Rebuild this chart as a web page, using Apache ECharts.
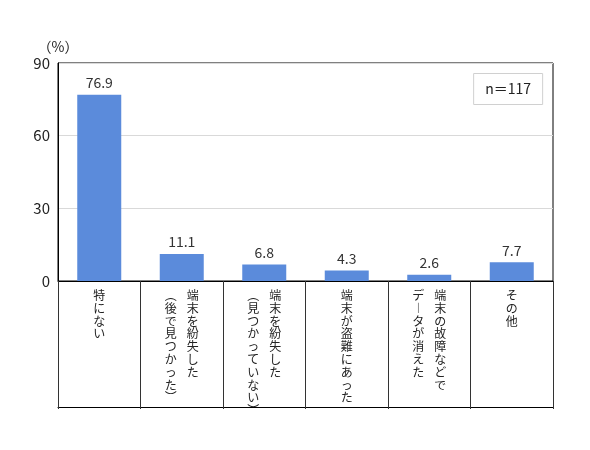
<!DOCTYPE html>
<html><head><meta charset="utf-8">
<script src="https://cdn.jsdelivr.net/npm/echarts@6/dist/echarts.min.js"></script>
<style>html,body{margin:0;padding:0;background:#fff}#c{width:590px;height:450px}</style>
</head><body><div id="c"></div>
<script>
const categories = ['特にない', '端末を紛失した（後で見つかった）', '端末を紛失した（見つかっていない）', '端末が盗難にあった', '端末の故障などでデータが消えた', 'その他'];
const labelColumns = [
  ['特にない'],
  ['端末を紛失した', '（後で見つかった）'],
  ['端末を紛失した', '（見つかっていない）'],
  ['端末が盗難にあった'],
  ['端末の故障などで', 'データが消えた'],
  ['その他']
];
const values = [76.9, 11.1, 6.8, 4.3, 2.6, 7.7];
const yTickValues = [0, 30, 60, 90];
const unitLabel = '（%）';
const sampleNote = 'n＝117';

const FONT = '"Noto Sans CJK JP", "Noto Sans", sans-serif';
const VERT = {'（': '︵', '）': '︶', 'ー': '︱'};
function toVertical(col) { return Array.from(col).map(c => VERT[c] || c); }
function verticalLabel(idx) {
  const cols = labelColumns[idx].map(toVertical).reverse(); // leftmost column first
  const n = Math.max(...cols.map(c => c.length));
  const lines = [];
  for (let i = 0; i < n; i++) {
    lines.push(cols.map(c => '{c|' + (c[i] || '　') + '}').join(''));
  }
  return lines.join('\n');
}

const chart = echarts.init(document.getElementById('c'));
chart.setOption({
  animation: false,
  backgroundColor: '#fff',
  textStyle: { fontFamily: FONT },
  title: {
    text: sampleNote,
    right: 47, top: 73,
    padding: [8, 12],
    borderColor: '#d0d0d0', borderWidth: 1,
    textStyle: { fontSize: 14, fontWeight: 'normal', color: '#222', fontFamily: FONT, lineHeight: 16 }
  },
  grid: {
    left: 58, right: 37, top: 63, bottom: 169,
    show: true, borderColor: '#000', borderWidth: 1, backgroundColor: 'transparent',
    outerBoundsMode: 'none'
  },
  xAxis: [{
    type: 'category',
    data: categories,
    position: 'bottom',
    axisLine: { show: true, lineStyle: { color: '#000', width: 1 } },
    axisTick: { show: true, interval: 0, length: 128, lineStyle: { color: '#333' } },
    axisLabel: {
      interval: 0, margin: 8,
      formatter: (v, i) => verticalLabel(i),
      rich: { c: { width: 22, fontSize: 12, lineHeight: 12.8, color: '#222', fontFamily: FONT, align: 'center' } }
    }
  }, {
    type: 'category',
    data: categories,
    position: 'bottom',
    offset: 126,
    axisLine: { show: true, lineStyle: { color: '#000', width: 1 } },
    axisTick: { show: false },
    axisLabel: { show: false }
  }],
  yAxis: {
    type: 'value',
    min: yTickValues[0], max: yTickValues[yTickValues.length - 1], interval: yTickValues[1] - yTickValues[0],
    name: unitLabel,
    nameLocation: 'end', nameGap: 9,
    nameTextStyle: { fontSize: 14, color: '#222', fontFamily: FONT, align: 'center' },
    axisLine: { show: true, lineStyle: { color: '#000' } },
    axisTick: { show: false },
    axisLabel: { fontSize: 15, color: '#222', margin: 8, fontFamily: FONT },
    splitLine: { show: true, lineStyle: { color: '#d9d9d9' } }
  },
  series: [{
    type: 'bar',
    data: values,
    xAxisIndex: 0,
    barWidth: 44,
    itemStyle: { color: '#5b8bdb' },
    label: { show: true, position: 'top', distance: 5, fontSize: 14, color: '#333', fontFamily: FONT, formatter: p => p.value.toFixed(1) }
  }]
});
</script></body></html>
